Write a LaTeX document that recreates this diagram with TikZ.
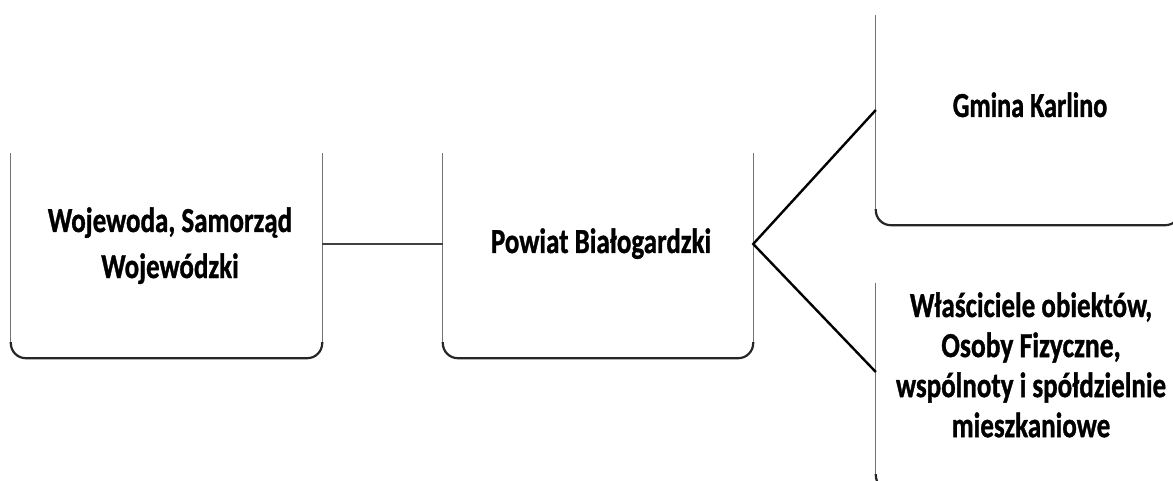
\documentclass[tikz,border=0pt]{standalone}
\usepackage{fontspec}
\setmainfont{Carlito}[BoldFeatures={FakeBold=1.2}]
\begin{document}
\begin{tikzpicture}[x=1pt,y=-1pt,
  box/.style={rectangle, inner sep=0pt, draw=none},
  side/.style={draw=black!55, line width=0.9pt},
  base/.style={draw=black!85, line width=2.2pt, rounded corners=15pt},
  conn/.style={draw=black, line width=2.4pt},
  lbl/.style={font=\bfseries\fontsize{27}{35.4}\selectfont, inner sep=0pt, anchor=base},
  lblb/.style={font=\bfseries\fontsize{27}{30.8}\selectfont, inner sep=0pt, anchor=base}]
\useasboundingbox (0,0) rectangle (1173,481);
\clip (0,0) rectangle (1173,481);
% boxes
\node[box, minimum width=311pt, minimum height=228pt] (b1) at (166.5,244) {};
\node[box, minimum width=310pt, minimum height=228pt] (b2) at (598,244) {};
\node[box, minimum width=304pt, minimum height=230pt] (b3) at (1028,110) {};
\node[box, minimum width=308pt, minimum height=236pt] (b4) at (1030,372) {};
% texts
\node[lbl] (t1) at (170,232) {\scalebox{1}[1.3]{\begin{tabular}[t]{@{}c@{}}Wojewoda, Samorząd\\Wojewódzki\end{tabular}}};
\node[lbl] (t2) at (601,253) {\scalebox{1}[1.3]{Powiat Białogardzki}};
\node[lbl] (t3) at (1030,117) {\scalebox{0.97}[1.3]{Gmina Karlino}};
\node[lblb] (t4) at (1031,317) {\scalebox{1}[1.3]{\begin{tabular}[t]{@{}c@{}}Właściciele obiektów,\\\scalebox{1.02}[1]{Osoby Fizyczne,}\\wspólnoty i spółdzielnie\\mieszkaniowe\end{tabular}}};
% box outlines (open top)
\draw[side] ([yshift=-23pt]b1.north west) -- ([yshift=14pt]b1.south west);
\draw[side] ([yshift=-23pt]b1.north east) -- ([yshift=14pt]b1.south east);
\draw[base] ([yshift=16pt]b1.south west) -- (b1.south west) -- (b1.south east) -- ([yshift=16pt]b1.south east);
\draw[side] ([yshift=-23pt]b2.north west) -- ([yshift=14pt]b2.south west);
\draw[side] ([yshift=-23pt]b2.north east) -- ([yshift=14pt]b2.south east);
\draw[base] ([yshift=16pt]b2.south west) -- (b2.south west) -- (b2.south east) -- ([yshift=16pt]b2.south east);
\draw[side] ([yshift=-20pt]b3.north west) -- ([yshift=14pt]b3.south west);
\draw[base] ([yshift=16pt]b3.south west) -- (b3.south west) -- (b3.south east) -- ([yshift=16pt]b3.south east);
\draw[side] ([yshift=-29pt]b4.north west) -- ([yshift=14pt]b4.south west);
\draw[base] ([yshift=16pt]b4.south west) -- (b4.south west) -- (b4.south east);
% connectors
\draw[conn, draw=black!75, line width=2pt] (b1.east) -- (b2.west);
\draw[conn] (b3.west) -- (b2.east) -- (b4.west);
\end{tikzpicture}
\end{document}
